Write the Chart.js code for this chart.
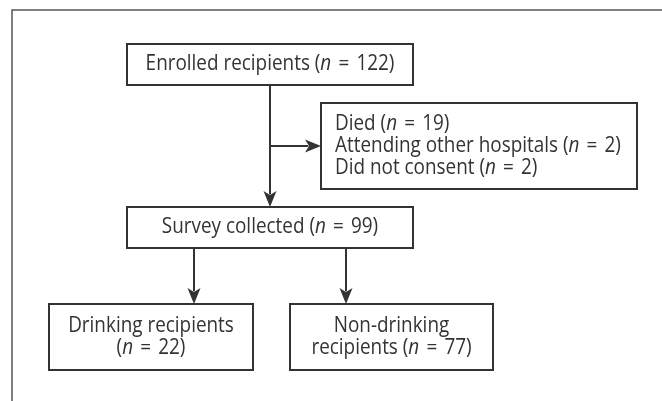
<!DOCTYPE html>
<html>
<head>
<meta charset="utf-8">
<script src="https://cdn.jsdelivr.net/npm/chart.js@4.4.0/dist/chart.umd.min.js"></script>
<style>
  html, body { margin: 0; padding: 0; background: #fff; }
  #wrap { width: 662px; height: 401px; }
</style>
</head>
<body>
<div id="wrap"><canvas id="flow" width="662" height="401"></canvas></div>
<script>
// ── Data ──────────────────────────────────────────────────────────────────
const stepLabels      = ['Enrolled recipients', 'Survey collected', 'Drinking recipients', 'Non-drinking recipients'];
const stepCounts      = [122, 99, 22, 77];
const exclusionLabels = ['Died', 'Attending other hospitals', 'Did not consent'];
const exclusionCounts = [19, 2, 2];

// ── Layout (chart units, y grows downward) ────────────────────────────────
const boxLeft   = [127, 127, 49, 290];
const boxRight  = [413, 413, 253, 493];
const boxTop    = [44, 207, 304, 304];
const boxBottom = [85, 248, 370, 370];
const exclBox   = { left: 321, right: 637, top: 103, bottom: 189, textX: 335, lineGap: 22 };
const branchX   = [194, 346];

const INK   = '#333';
const FONT  = '"Open Sans", "DejaVu Sans", sans-serif';
const FSIZE = 21;
const SX    = 0.9; // horizontal squeeze of the type
const EQGAP = 2.5; // extra room around "="

function countParts(n) {
  return [{ t: 'n', i: true }, { t: ' ' }, { t: '=', g: true }, { t: ' ' + n + ')' }];
}
function richParts(label, n) {
  return [{ t: label + ' (' }].concat(countParts(n));
}

function partsWidth(ctx, parts) {
  let w = 0;
  parts.forEach(p => {
    ctx.font = `${p.i ? 'italic ' : ''}${FSIZE}px ${FONT}`;
    w += ctx.measureText(p.t).width + (p.g ? 2 * EQGAP : 0);
  });
  return w * SX;
}

function drawParts(ctx, parts, x, y, align) {
  const w = partsWidth(ctx, parts);
  const x0 = align === 'center' ? x - w / 2 : x;
  ctx.save();
  ctx.translate(x0, y);
  ctx.scale(SX, 1);
  ctx.textBaseline = 'middle';
  ctx.textAlign = 'left';
  ctx.fillStyle = INK;
  let cx = 0;
  parts.forEach(p => {
    ctx.font = `${p.i ? 'italic ' : ''}${FSIZE}px ${FONT}`;
    if (p.g) cx += EQGAP;
    ctx.fillText(p.t, cx, 0);
    cx += ctx.measureText(p.t).width + (p.g ? EQGAP : 0);
  });
  ctx.restore();
}

function arrow(ctx, x1, y1, x2, y2) {
  const ang = Math.atan2(y2 - y1, x2 - x1);
  const len = 16, half = 6.5;
  ctx.beginPath();
  ctx.moveTo(x1, y1);
  ctx.lineTo(x2 - Math.cos(ang) * len * 0.8, y2 - Math.sin(ang) * len * 0.8);
  ctx.stroke();
  ctx.beginPath();
  ctx.moveTo(x2, y2);
  ctx.lineTo(x2 - Math.cos(ang) * len - Math.sin(ang) * half, y2 - Math.sin(ang) * len + Math.cos(ang) * half);
  ctx.lineTo(x2 - Math.cos(ang) * len * 0.75, y2 - Math.sin(ang) * len * 0.75);
  ctx.lineTo(x2 - Math.cos(ang) * len + Math.sin(ang) * half, y2 - Math.sin(ang) * len - Math.cos(ang) * half);
  ctx.closePath();
  ctx.fill();
}

const flowPlugin = {
  id: 'flow',
  afterDraw(chart) {
    const ctx = chart.ctx;
    const px = v => chart.scales.x.getPixelForValue(v);
    const py = v => chart.scales.y.getPixelForValue(v);

    ctx.save();
    // outer frame (top + left only, rest is cropped)
    ctx.strokeStyle = '#555';
    ctx.lineWidth = 1.5;
    ctx.beginPath();
    ctx.moveTo(px(662), py(10));
    ctx.lineTo(px(12), py(10));
    ctx.lineTo(px(12), py(401));
    ctx.stroke();

    ctx.strokeStyle = INK;
    ctx.fillStyle = INK;
    ctx.lineWidth = 2;

    // step boxes
    stepLabels.forEach((lab, i) => {
      const l = px(boxLeft[i]), r = px(boxRight[i]), t = py(boxTop[i]), b = py(boxBottom[i]);
      ctx.strokeRect(l, t, r - l, b - t);
      const cx = (l + r) / 2, cy = (t + b) / 2;
      if (i < 2) {
        drawParts(ctx, richParts(lab, stepCounts[i]), cx, cy, 'center');
      } else {
        // two-line boxes
        const words = lab.split(' ');
        const line1 = i === 2 ? [{ t: lab }] : [{ t: words[0] }];
        const line2 = i === 2
          ? [{ t: '(' }].concat(countParts(stepCounts[i]))
          : richParts(words.slice(1).join(' '), stepCounts[i]);
        drawParts(ctx, line1, cx, cy - 11, 'center');
        drawParts(ctx, line2, cx, cy + 11, 'center');
      }
    });

    // exclusion box
    const el = px(exclBox.left), er = px(exclBox.right), et = py(exclBox.top), eb = py(exclBox.bottom);
    ctx.strokeRect(el, et, er - el, eb - et);
    const ecy = (et + eb) / 2;
    exclusionLabels.forEach((lab, i) => {
      const y = ecy + (i - (exclusionLabels.length - 1) / 2) * exclBox.lineGap;
      drawParts(ctx, richParts(lab, exclusionCounts[i]), px(exclBox.textX), y, 'left');
    });

    // connectors
    const midX = px((boxLeft[0] + boxRight[0]) / 2);
    arrow(ctx, midX, py(boxBottom[0]), midX, py(boxTop[1]));
    arrow(ctx, midX, ecy, el, ecy);
    branchX.forEach((bx, k) => {
      arrow(ctx, px(bx), py(boxBottom[1]), px(bx), py(boxTop[2 + k]));
    });
    ctx.restore();
  }
};

new Chart(document.getElementById('flow'), {
  type: 'scatter',
  data: { datasets: [{ data: [], pointRadius: 0 }] },
  options: {
    responsive: false,
    animation: false,
    layout: { padding: 0 },
    plugins: { legend: { display: false }, tooltip: { enabled: false } },
    scales: {
      x: { type: 'linear', min: 0, max: 662, display: false },
      y: { type: 'linear', min: 0, max: 401, reverse: true, display: false }
    }
  },
  plugins: [flowPlugin]
});
</script>
</body>
</html>
